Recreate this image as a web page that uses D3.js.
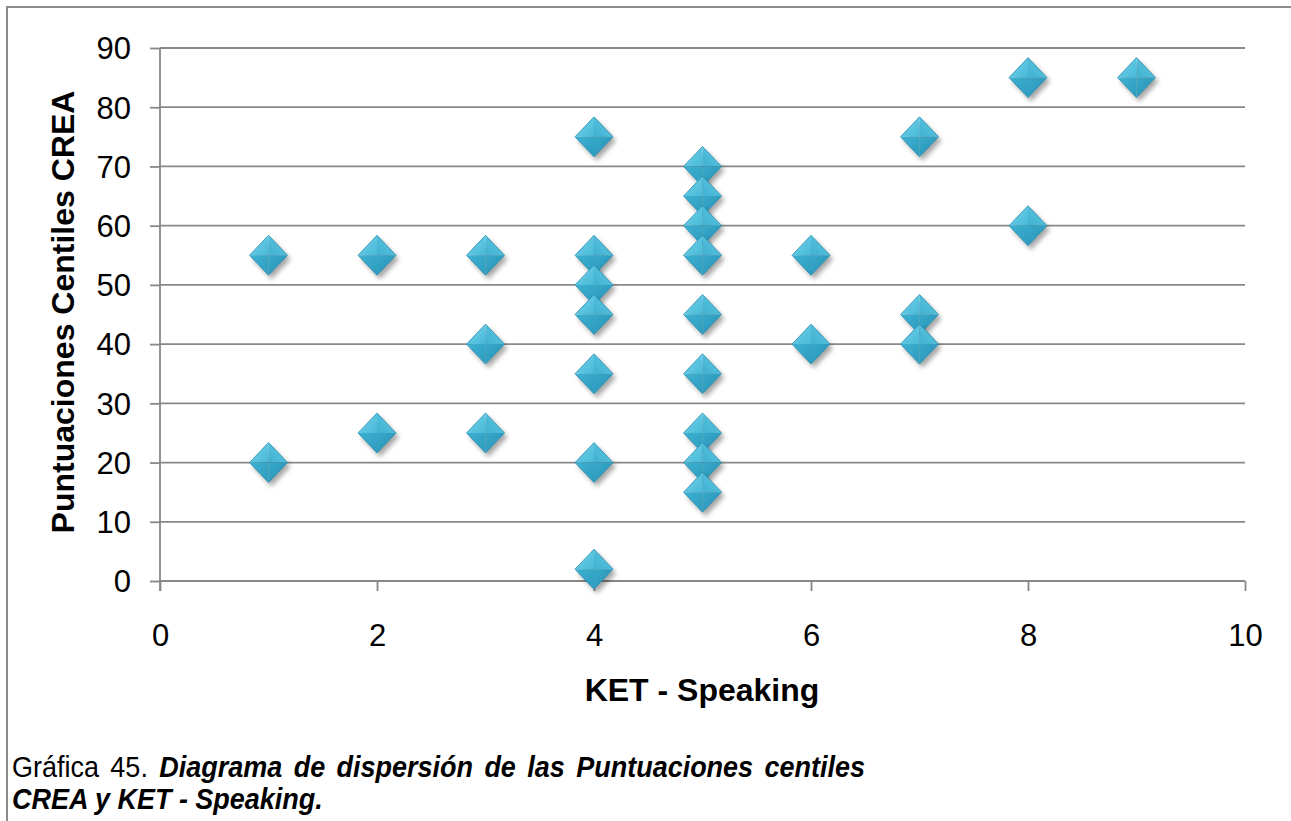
<!DOCTYPE html>
<html>
<head>
<meta charset="utf-8">
<script src="https://cdn.jsdelivr.net/npm/d3@7"></script>
<style>
  body { margin: 0; background: #fff; }
  svg { display: block; }
  .tick text { font-family: "Liberation Sans", Arial, sans-serif; font-size: 31px; fill: #000; }
  .axis-title { font-family: "Liberation Sans", Arial, sans-serif; font-size: 32px; font-weight: bold; fill: #000; }
  .caption { font-family: "Liberation Sans", Arial, sans-serif; font-size: 30px; fill: #000; }
</style>
</head>
<body>
<div id="chart"></div>
<script>
// KET - Speaking scores
const speaking = [1, 1, 2, 2, 3, 3, 3,
                  4, 4, 4, 4, 4, 4, 4,
                  5, 5, 5, 5, 5, 5, 5, 5, 5,
                  6, 6, 7, 7, 7, 8, 8, 9];
// Puntuaciones centiles CREA
const centiles = [55, 20, 55, 25, 55, 40, 25,
                  75, 55, 50, 45, 35, 20, 2,
                  70, 65, 60, 55, 45, 35, 25, 20, 15,
                  55, 40, 75, 45, 40, 85, 60, 85];
const xTicks = [0, 2, 4, 6, 8, 10];
const yTicks = [0, 10, 20, 30, 40, 50, 60, 70, 80, 90];

const W = 1291, H = 821;
const margin = {left: 160, right: 46, top: 48, bottom: 240};

const svg = d3.select("#chart").append("svg")
    .attr("width", W).attr("height", H);

// outer frame (only top + left show in the crop)
svg.append("path")
    .attr("d", `M7,${H} L7,7 L${W},7`)
    .attr("fill", "none").attr("stroke", "#8c8c8c").attr("stroke-width", 2);

const x = d3.scaleLinear().domain([0, 10]).range([margin.left, W - margin.right]);
const y = d3.scaleLinear().domain([0, 90]).range([H - margin.bottom, margin.top]);

const defs = svg.append("defs");
function grad(id, c1, c2, x1, y1, x2, y2) {
    let g = defs.append("linearGradient").attr("id", id)
        .attr("x1", x1).attr("y1", y1).attr("x2", x2).attr("y2", y2);
    g.append("stop").attr("offset", "0%").attr("stop-color", c1);
    g.append("stop").attr("offset", "100%").attr("stop-color", c2);
}
grad("gTL", "#78d3ea", "#46b9d8", "0", "0", "1", "1");
grad("gTR", "#62cae4", "#3fb0d0", "1", "0", "0", "1");
grad("gBL", "#3eb1d1", "#2d9cbe", "0", "0", "1", "1");
grad("gBR", "#38a9ca", "#2690b3", "0", "0", "1", "1");
const shadow = defs.append("filter").attr("id", "shadow")
    .attr("x", "-50%").attr("y", "-50%").attr("width", "200%").attr("height", "200%");
shadow.append("feGaussianBlur").attr("stdDeviation", 2.5);

// gridlines
svg.append("g")
    .selectAll("line")
    .data(yTicks.filter(d => d > 0))
    .join("line")
    .attr("x1", x(0)).attr("x2", x(10))
    .attr("y1", d => y(d)).attr("y2", d => y(d))
    .attr("stroke", "#888").attr("stroke-width", 1.8);

// y axis
const yAxis = svg.append("g")
    .attr("transform", `translate(${x(0)},0)`)
    .call(d3.axisLeft(y).tickValues(yTicks).tickSize(10).tickPadding(19).tickFormat(d3.format("d")));
yAxis.selectAll("path, line").attr("stroke", "#888").attr("stroke-width", 1.8);
yAxis.select(".domain").attr("d", `M0,${y(90)}V${y(0) + 10}`);
yAxis.selectAll(".tick text").attr("dy", "0.35em");

// x axis
const xAxis = svg.append("g")
    .attr("transform", `translate(0,${y(0)})`)
    .call(d3.axisBottom(x).tickValues(xTicks).tickSize(10).tickPadding(33).tickFormat(d3.format("d")));
xAxis.selectAll("path, line").attr("stroke", "#888").attr("stroke-width", 1.8);
xAxis.select(".domain").attr("d", `M${x(0)},0H${x(10)}`);

// axis titles
svg.append("text").attr("class", "axis-title")
    .attr("x", 702).attr("y", 701)
    .attr("text-anchor", "middle").text("KET - Speaking");
svg.append("text").attr("class", "axis-title")
    .attr("transform", `translate(74,312)rotate(-90)`)
    .attr("text-anchor", "middle").text("Puntuaciones Centiles CREA");

// markers
const hw = 19, hh = 20;
const pts = speaking.map((s, i) => ({x: s, y: centiles[i]}));
const mk = svg.append("g").selectAll("g")
    .data(pts)
    .join("g")
    .attr("transform", d => `translate(${x(d.x)},${y(d.y)})`);
mk.append("path")
    .attr("d", `M0,${-hh}L${hw},0L0,${hh}L${-hw},0Z`)
    .attr("transform", "translate(3,4)")
    .attr("fill", "#000").attr("opacity", 0.35)
    .attr("filter", "url(#shadow)");
mk.append("path").attr("d", `M0,${-hh}L0,0L${-hw},0Z`).attr("fill", "url(#gTL)");
mk.append("path").attr("d", `M0,${-hh}L${hw},0L0,0Z`).attr("fill", "url(#gTR)");
mk.append("path").attr("d", `M${-hw},0L0,0L0,${hh}Z`).attr("fill", "url(#gBL)");
mk.append("path").attr("d", `M0,0L${hw},0L0,${hh}Z`).attr("fill", "url(#gBR)");
mk.append("path")
    .attr("d", `M0,${-hh}L${hw},0L0,${hh}L${-hw},0Z`)
    .attr("fill", "none").attr("stroke", "#2a8fb0").attr("stroke-width", 0.8);

// caption, slightly condensed and justified on the first line
const sx = 0.9;
const capX = 12;
const line1 = svg.append("text").attr("class", "caption")
    .attr("transform", `translate(${capX},777)scale(${sx},1)`);
line1.append("tspan").text("Gráfica 45. ");
line1.append("tspan").attr("font-weight", "bold").attr("font-style", "italic")
    .text("Diagrama de dispersión de las Puntuaciones centiles");
const target = (865 - capX) / sx;
const len = line1.node().getComputedTextLength();
const gaps = line1.text().trim().split(/\s+/).length - 1;
if (len < target && gaps > 0) line1.attr("word-spacing", (target - len) / gaps);

svg.append("text").attr("class", "caption")
    .attr("transform", `translate(${capX},809)scale(${sx},1)`)
    .attr("font-weight", "bold").attr("font-style", "italic")
    .text("CREA y KET - Speaking.");
</script>
</body>
</html>
